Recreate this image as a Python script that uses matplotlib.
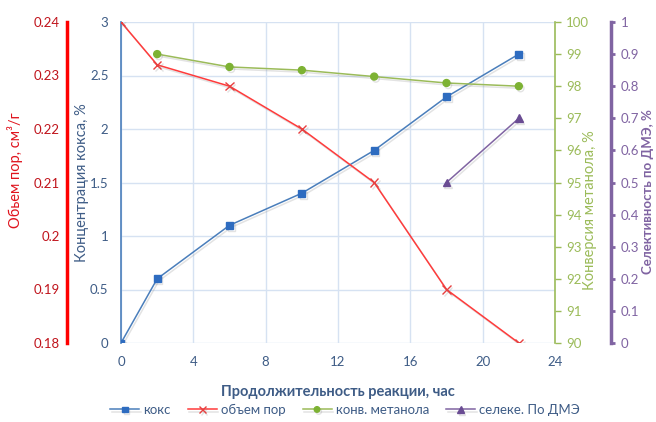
import matplotlib
matplotlib.use("Agg")
import matplotlib.pyplot as plt
import matplotlib.patheffects as pe

plt.rcParams['font.family'] = ['Lato', 'DejaVu Sans']

# Reaction time, h
hours = [0, 2, 6, 10, 14, 18, 22]
coke = [0, 0.6, 1.1, 1.4, 1.8, 2.3, 2.7]                 # coke content, %
pore_volume = [0.24, 0.232, 0.228, 0.22, 0.21, 0.19, 0.18]  # cm3/g
conv_hours = [2, 6, 10, 14, 18, 22]
conversion = [99.0, 98.6, 98.5, 98.3, 98.1, 98.0]       # methanol conversion, %
sel_hours = [18, 22]
selectivity = [0.5, 0.7]                                  # DME selectivity

x_ticks = [0, 4, 8, 12, 16, 20, 24]

C_BLUE = '#4A7EBB'
C_BLUE_M = '#2E6CC0'
C_BLUE_TXT = '#3E5C86'
C_RED = '#FF3B3B'
C_RED_TXT = '#C0141C'
C_GREEN = '#9BBB59'
C_GREEN_M = '#7DB233'
C_PURPLE = '#8064A2'
C_GRID = '#D6E2F2'

W, H = 656, 422
fig = plt.figure(figsize=(W / 100, H / 100), dpi=100)
L, R, T, B = 121, 555, 22, 343
ax = fig.add_axes([L / W, 1 - B / H, (R - L) / W, (B - T) / H])
span = R - L

shadow = [pe.SimpleLineShadow(offset=(1.2, -1.5), shadow_color='#808080', alpha=0.22), pe.Normal()]

# Coke axis (main)
ax.set_xlim(0, 24)
ax.set_ylim(0, 3)
ax.set_xticks(x_ticks)
ax.set_yticks([0, 0.5, 1, 1.5, 2, 2.5, 3])
ax.set_yticklabels(['0', '0.5', '1', '1.5', '2', '2.5', '3'])
ax.grid(True, color=C_GRID, linewidth=1)
ax.set_axisbelow(True)
for s in ['top', 'right', 'bottom']:
    ax.spines[s].set_visible(False)
ax.spines['left'].set_color(C_BLUE)
ax.spines['left'].set_linewidth(1.2)
ax.tick_params(axis='y', length=0, pad=9, labelsize=9.5, labelcolor=C_BLUE_TXT)
ax.tick_params(axis='x', length=0, pad=9, labelsize=9.5, labelcolor=C_BLUE_TXT)

# Pore volume axis
ax_r = ax.twinx()
ax_r.set_ylim(0.18, 0.24)
ax_r.set_yticks([0.18, 0.19, 0.2, 0.21, 0.22, 0.23, 0.24])
ax_r.set_yticklabels(['0.18', '0.19', '0.2', '0.21', '0.22', '0.23', '0.24'])
for s in ['top', 'right', 'bottom']:
    ax_r.spines[s].set_visible(False)
ax_r.yaxis.set_ticks_position('left')
ax_r.spines['left'].set_position(('axes', -(L - 67) / span))
ax_r.spines['left'].set_color('#FF0000')
ax_r.spines['left'].set_linewidth(2.5)
ax_r.tick_params(axis='y', length=0, pad=5, labelsize=9.5, labelcolor=C_RED_TXT)

# Methanol conversion axis
ax_g = ax.twinx()
ax_g.set_ylim(90, 100)
ax_g.set_yticks(range(90, 101))
for s in ['top', 'left', 'bottom']:
    ax_g.spines[s].set_visible(False)
ax_g.spines['right'].set_color(C_GREEN)
ax_g.spines['right'].set_linewidth(1.2)
ax_g.tick_params(axis='y', length=4, width=1, color=C_GREEN, pad=4, labelsize=9.5, labelcolor=C_GREEN)

# DME selectivity axis
ax_p = ax.twinx()
ax_p.set_ylim(0, 1)
ax_p.set_yticks([i / 10 for i in range(11)])
ax_p.set_yticklabels(['0', '0.1', '0.2', '0.3', '0.4', '0.5', '0.6', '0.7', '0.8', '0.9', '1'])
for s in ['top', 'left', 'bottom']:
    ax_p.spines[s].set_visible(False)
ax_p.spines['right'].set_position(('axes', (611 - L) / span))
ax_p.spines['right'].set_color(C_PURPLE)
ax_p.spines['right'].set_linewidth(2.5)
ax_p.tick_params(axis='y', length=3, width=2, color=C_PURPLE, pad=4, labelsize=9.5, labelcolor=C_PURPLE)

# Series
l1, = ax.plot(hours, coke, color=C_BLUE, lw=1.1, marker='s', ms=5,
              mfc=C_BLUE_M, mec=C_BLUE_M, label='кокс', path_effects=shadow, zorder=5)
l2, = ax_r.plot(hours, pore_volume, color=C_RED, lw=1.1, marker='x', ms=6, mew=1,
                mec='#E84040', label='объем пор', path_effects=shadow, zorder=5)
l3, = ax_g.plot(conv_hours, conversion, color=C_GREEN, lw=1.1, marker='o', ms=5,
                mfc=C_GREEN_M, mec=C_GREEN_M, label='конв. метанола', path_effects=shadow, zorder=5)
l4, = ax_p.plot(sel_hours, selectivity, color=C_PURPLE, lw=1.1, marker='^', ms=5.5,
                mfc='#6A4C93', mec='#6A4C93', label='селеке. По ДМЭ', path_effects=shadow, zorder=5)

# Axis titles
fig.text(15 / W, 1 - 170 / H, 'Обьем пор, см³/г', rotation=90, ha='center', va='center',
         fontsize=10.5, color='#E0141E')
fig.text(82 / W, 1 - 183 / H, 'Концентрация кокса, %', rotation=90, ha='center', va='center',
         fontsize=10.5, color=C_BLUE_TXT)
fig.text(590 / W, 1 - 210 / H, 'Конверсия метанола, %', rotation=90, ha='center', va='center',
         fontsize=10.5, color=C_GREEN)
fig.text(648.5 / W, 1 - 192 / H, 'Селективность по ДМЭ, %', rotation=90, ha='center', va='center',
         fontsize=9.5, color=C_PURPLE, fontweight='bold')
fig.text(338 / W, 1 - 392 / H, 'Продолжительность реакции, час', ha='center', va='center',
         fontsize=10.5, color=C_BLUE_TXT, fontweight='bold')

fig.legend(handles=[l1, l2, l3, l4], loc='center', bbox_to_anchor=(345 / W, 1 - 410 / H),
           ncol=4, frameon=False, fontsize=9.5, handlelength=2.2, columnspacing=1.3,
           handletextpad=0.3, markerscale=0.8, labelcolor=C_BLUE_TXT)

fig.savefig('out.png', dpi=100)
